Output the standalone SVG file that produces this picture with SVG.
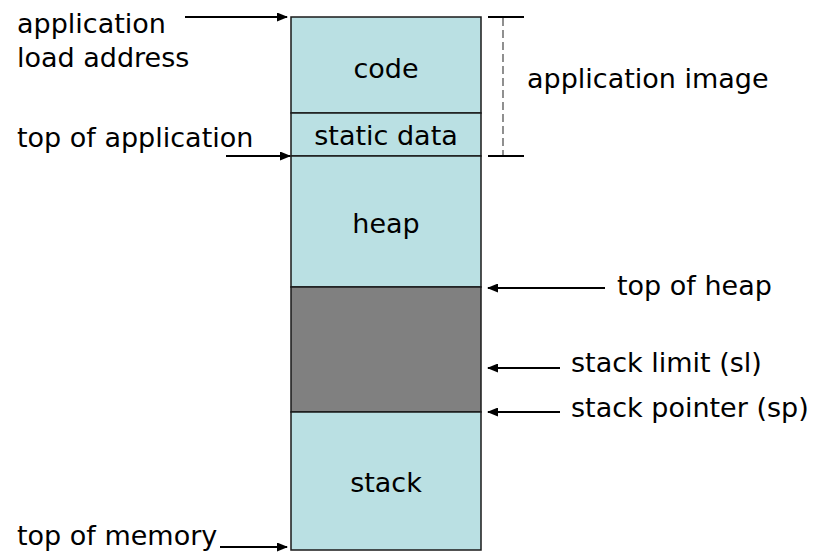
<svg xmlns="http://www.w3.org/2000/svg" width="816" height="553" viewBox="0 0 816 553">
  <style>
    text { font-family: "DejaVu Sans", Verdana, sans-serif; font-size: 27px; fill: #000; }
    .mid { text-anchor: middle; }
    .seg { fill: #BAE0E3; stroke: #1a1a1a; stroke-width: 1.5; }
    .free { fill: #808080; stroke: #1a1a1a; stroke-width: 1.5; }
    .ptr { stroke: #000; stroke-width: 2.2; fill: none; marker-end: url(#head); }
    .tick { stroke: #000; stroke-width: 1.8; }
    .span { stroke: #555; stroke-width: 1.3; stroke-dasharray: 8 4; }
  </style>
  <defs>
    <marker id="head" markerUnits="userSpaceOnUse" markerWidth="11" markerHeight="9" refX="10" refY="4.5" orient="auto">
      <path d="M0,0 L11,4.5 L0,9 Z" fill="#000"/>
    </marker>
  </defs>

  <rect width="816" height="553" fill="#fff"/>

  <!-- memory segments -->
  <g id="code">
    <rect class="seg" x="291" y="17" width="190" height="96"/>
    <text class="mid" x="386" y="78">code</text>
  </g>
  <g id="static-data">
    <rect class="seg" x="291" y="113" width="190" height="43"/>
    <text class="mid" x="386" y="145">static data</text>
  </g>
  <g id="heap">
    <rect class="seg" x="291" y="156" width="190" height="131"/>
    <text class="mid" x="386" y="233">heap</text>
  </g>
  <g id="free">
    <rect class="free" x="291" y="287" width="190" height="125"/>
  </g>
  <g id="stack">
    <rect class="seg" x="291" y="412" width="190" height="138"/>
    <text class="mid" x="386" y="492">stack</text>
  </g>

  <!-- application image span -->
  <g id="image-span">
    <line class="tick" x1="488" y1="17" x2="524" y2="17"/>
    <line class="tick" x1="488" y1="156" x2="524" y2="156"/>
    <line class="span" x1="503" y1="18" x2="503" y2="155"/>
    <text x="527" y="88">application image</text>
  </g>

  <!-- labels -->
  <g id="label-load">
    <text x="17" y="33">application</text>
    <text x="17" y="67">load address</text>
  </g>
  <g id="label-top-app">
    <text x="17" y="147">top of application</text>
  </g>
  <g id="label-top-mem">
    <text x="17" y="545">top of memory</text>
  </g>
  <g id="label-top-heap">
    <text x="617" y="295">top of heap</text>
  </g>
  <g id="label-sl">
    <text x="571" y="372">stack limit (sl)</text>
  </g>
  <g id="label-sp">
    <text x="571" y="417">stack pointer (sp)</text>
  </g>

  <!-- pointers -->
  <g id="connectors">
    <line class="ptr" x1="185" y1="17" x2="287" y2="17"/>
    <line class="ptr" x1="226" y1="156" x2="290" y2="156"/>
    <line class="ptr" x1="220" y1="547" x2="287" y2="547"/>
    <line class="ptr" x1="605" y1="288" x2="488" y2="288"/>
    <line class="ptr" x1="560" y1="368" x2="488" y2="368"/>
    <line class="ptr" x1="560" y1="412" x2="488" y2="412"/>
  </g>
</svg>
